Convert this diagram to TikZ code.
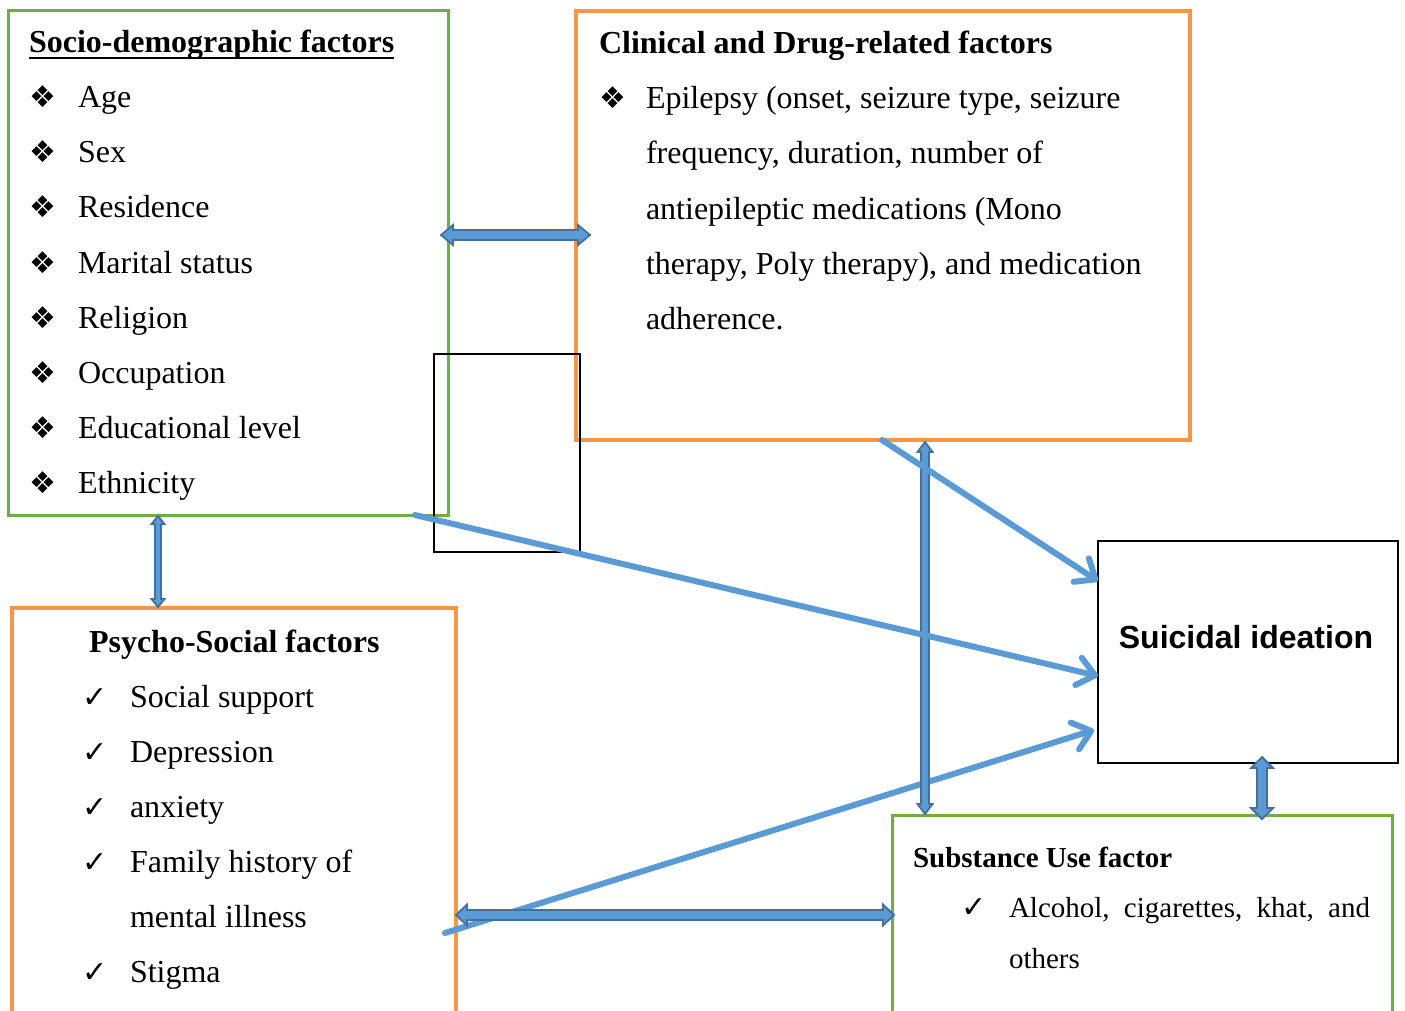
\documentclass[tikz,border=0pt]{standalone}
\usepackage{fontspec}
\setmainfont{Liberation Serif}
\newfontfamily\arialfont{Liberation Sans}
\newfontfamily\dejafont{DejaVu Sans}
\usetikzlibrary{arrows.meta,calc}
\definecolor{boxgreen}{HTML}{70AD47}
\definecolor{boxorange}{HTML}{F79646}
\definecolor{arrowblue}{HTML}{5B9BD5}
\definecolor{arrowedge}{HTML}{41719C}
% block double arrow: #1,#2 end points, #3 shaft half width, #4 head half width, #5 head length
\newcommand\dblarrow[5]{%
  \filldraw[blockarrow] (#1)
   -- ($(#1)!#5!(#2)!#4!90:(#2)$) -- ($(#1)!#5!(#2)!#3!90:(#2)$)
   -- ($(#2)!#5!(#1)!#3!-90:(#1)$) -- ($(#2)!#5!(#1)!#4!-90:(#1)$)
   -- (#2)
   -- ($(#2)!#5!(#1)!#4!90:(#1)$) -- ($(#2)!#5!(#1)!#3!90:(#1)$)
   -- ($(#1)!#5!(#2)!#3!-90:(#2)$) -- ($(#1)!#5!(#2)!#4!-90:(#2)$)
   -- cycle;}
\begin{document}
\begin{tikzpicture}[x=1pt,y=-1pt,
  frame/.style={draw=#1, fill=none, anchor=north west, inner sep=0pt, outer sep=0pt},
  txt/.style={anchor=base west, inner sep=0pt, outer sep=0pt, font=\fontsize{32}{38}\selectfont},
  head/.style={txt, font=\fontsize{32}{38}\selectfont\bfseries},
  smalltxt/.style={anchor=base west, inner sep=0pt, outer sep=0pt, font=\fontsize{29}{34}\selectfont},
  smallhead/.style={smalltxt, font=\fontsize{29}{34}\selectfont\bfseries},
  diam/.style={anchor=base west, inner sep=0pt, font=\dejafont\fontsize{30}{32}\selectfont},
  tick/.style={anchor=base west, inner sep=0pt, font=\dejafont\fontsize{30}{32}\selectfont},
  link/.style={line width=6pt, arrowblue, line cap=round, -{Straight Barb[length=17pt,width=28pt,round]}},
  blockarrow/.style={fill=arrowblue, draw=arrowedge, line width=1.8pt, line join=miter}]
\clip (0,0) rectangle (1405,1011);
\fill[white] (0,0) rectangle (1405,1011);

% boxes
\node[frame=boxgreen, line width=3pt, minimum width=440pt, minimum height=504pt] (socio) at (8,11) {};
\node[frame=boxorange, line width=4.2pt, minimum width=614pt, minimum height=429pt] (clin) at (576,11) {};
\node[frame=boxorange, line width=4.2pt, minimum width=444pt, minimum height=440pt] (psy) at (12,608) {};
\node[frame=boxgreen, line width=3pt, minimum width=500pt, minimum height=240pt] (subs) at (892,815) {};
\node[frame=black, line width=2.4pt, minimum width=300pt, minimum height=222pt] (suic) at (1098,541) {};
\node[frame=black, line width=1.4pt, minimum width=146pt, minimum height=198pt] (stray) at (434,354) {};

% socio-demographic
\node[head] (sh) at (29,53) {Socio-demographic factors};
\draw[line width=2.6pt] ([yshift=-5pt]sh.base west) -- ([yshift=-5pt]sh.base east);
\foreach \t [count=\i from 0] in {Age,Sex,Residence,Marital status,Religion,Occupation,Educational level,Ethnicity}{
  \node[diam] (sb\i) at (29,108+55*\i) {❖};
  \node[txt] (st\i) at (78,108+55*\i) {\t};
}

% clinical
\node[head] (ch) at (599,54) {Clinical and Drug-related factors};
\node[diam] (cb) at (599,109) {❖};
\foreach \t [count=\i from 0] in {{Epilepsy (onset, seizure type, seizure},{frequency, duration, number of},{antiepileptic medications (Mono},{therapy, Poly therapy), and medication},{adherence.}}{
  \node[txt] (ct\i) at (646,109+55*\i) {\t};
}

% psycho-social
\node[head] (ph) at (89,652) {Psycho-Social factors};
\foreach \t/\c [count=\i from 0] in {Social support/1,Depression/1,anxiety/1,Family history of/1,mental illness/0,Stigma/1}{
  \ifnum\c=1 \node[tick] (pb\i) at (82,707+55*\i) {✓};\fi
  \node[txt] (pt\i) at (130,707+55*\i) {\t};
}

% substance
\node[smallhead] (uh) at (913,867) {Substance Use factor};
\node[tick] (ub) at (961,917) {✓};
\node[smalltxt] (ut0) at (1009,917) {\makebox[361pt][s]{Alcohol, cigarettes, khat, and}};
\node[smalltxt] (ut1) at (1009,968) {others};

% outcome
\node[inner sep=0pt, font=\arialfont\bfseries\fontsize{32}{38}\selectfont] (st) at (1246,637) {Suicidal ideation};

% connectors
\coordinate (p3s) at (445,933);
\coordinate (p3e) at (1094,730);
\draw[link] (p3s) -- (p3e);

\coordinate (a1l) at (441,235); \coordinate (a1r) at (590,235);
\dblarrow{a1l}{a1r}{5pt}{10pt}{12pt}
\coordinate (a2t) at (158,516); \coordinate (a2b) at (158,607);
\dblarrow{a2t}{a2b}{3pt}{6.5pt}{8pt}
\coordinate (a3t) at (925,442); \coordinate (a3b) at (925,814);
\dblarrow{a3t}{a3b}{4pt}{7.5pt}{10pt}
\coordinate (a4l) at (456,915); \coordinate (a4r) at (894,915);
\dblarrow{a4l}{a4r}{5pt}{10.5pt}{11pt}
\coordinate (a5t) at (1262,757); \coordinate (a5b) at (1262,819);
\dblarrow{a5t}{a5b}{5pt}{11pt}{11pt}

\draw[link] (clin.south -| 882,0) -- (suic.west |- 0,581);
\draw[link] (socio.south -| 415,0) -- (suic.west |- 0,676);
\end{tikzpicture}
\end{document}
